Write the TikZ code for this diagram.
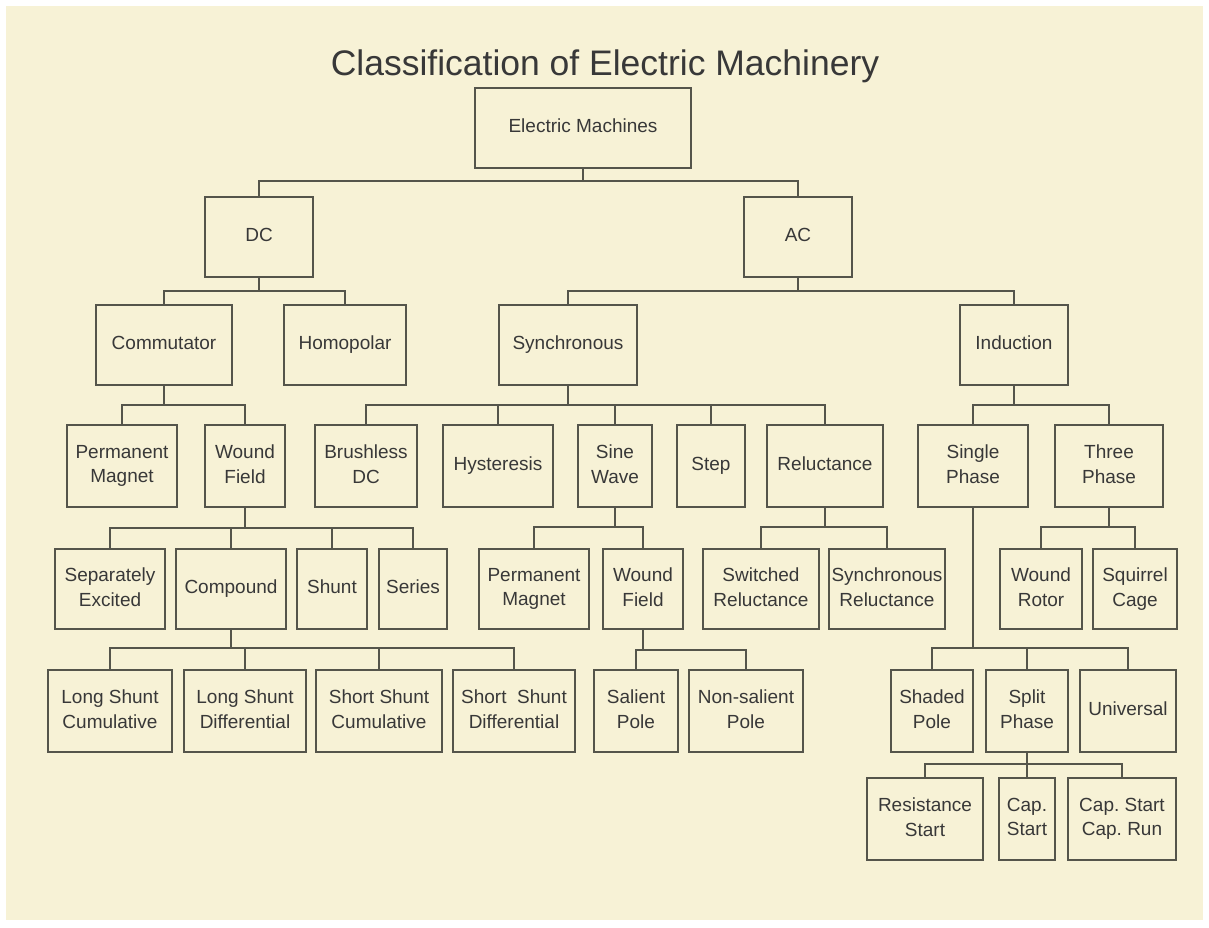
\documentclass[tikz,border=0pt]{standalone}
\usepackage{fontspec}
\setmainfont{Liberation Sans}
\usetikzlibrary{calc}
\frenchspacing
\definecolor{cream}{HTML}{F7F2D6}
\definecolor{linegray}{HTML}{55554B}
\definecolor{textgray}{HTML}{383838}
\tikzset{
  box/.style={draw=linegray, line width=1.6pt, rectangle, inner sep=0pt, align=center,
    text=textgray, font=\fontsize{19}{24.5}\selectfont,
    execute at begin node={\vphantom{Ag}}, execute at end node={\vphantom{A}}},
  conn/.style={draw=linegray, line width=1.6pt},
}
\begin{document}
\begin{tikzpicture}[x=1pt,y=-1pt]
\useasboundingbox (0,0) rectangle (1209,927);
\fill[white] (0,0) rectangle (1209,927);
\fill[cream] (6,6) rectangle (1203,920);

\node[anchor=base, text=textgray, font=\fontsize{35.5}{40}\selectfont] (title) at (605,75) {Classification of Electric Machinery};

% level 0-2
\node[box, minimum width=216pt, minimum height=80pt] (em) at (583,128) {Electric Machines};
\node[box, minimum width=108pt, minimum height=80pt] (dc) at (259,237) {DC};
\node[box, minimum width=108pt, minimum height=80pt] (ac) at (798,237) {AC};
\node[box, minimum width=136pt, minimum height=80pt] (comm) at (164,345) {Commutator};
\node[box, minimum width=122pt, minimum height=80pt] (homo) at (345,345) {Homopolar};
\node[box, minimum width=138pt, minimum height=80pt] (sync) at (568,345) {Synchronous};
\node[box, minimum width=108pt, minimum height=80pt] (ind) at (1014,345) {Induction};

% level 3
\node[box, minimum width=110pt, minimum height=82pt] (pm1) at (122,466) {Permanent\\Magnet};
\node[box, minimum width=80pt, minimum height=82pt] (wf1) at (245,466) {Wound\\Field};
\node[box, minimum width=102pt, minimum height=82pt] (bdc) at (366,466) {Brushless\\DC};
\node[box, minimum width=110pt, minimum height=82pt] (hys) at (498,466) {Hysteresis};
\node[box, minimum width=74pt, minimum height=82pt] (sine) at (615,466) {Sine\\Wave};
\node[box, minimum width=68pt, minimum height=82pt] (stepm) at (711,466) {Step};
\node[box, minimum width=116pt, minimum height=82pt] (rel) at (825,466) {Reluctance};
\node[box, minimum width=110pt, minimum height=82pt] (sp) at (973,466) {Single\\Phase};
\node[box, minimum width=108pt, minimum height=82pt] (tp) at (1109,466) {Three\\Phase};

% level 4
\node[box, minimum width=110pt, minimum height=80pt] (se) at (110,589) {Separately\\Excited};
\node[box, minimum width=110pt, minimum height=80pt] (comp) at (231,589) {Compound};
\node[box, minimum width=70pt, minimum height=80pt] (shunt) at (332,589) {Shunt};
\node[box, minimum width=68pt, minimum height=80pt] (series) at (413,589) {Series};
\node[box, minimum width=110pt, minimum height=80pt] (pm2) at (534,589) {Permanent\\Magnet};
\node[box, minimum width=80pt, minimum height=80pt] (wf2) at (643,589) {Wound\\Field};
\node[box, minimum width=116pt, minimum height=80pt] (swr) at (761,589) {Switched\\Reluctance};
\node[box, minimum width=116pt, minimum height=80pt] (syr) at (887,589) {Synchronous\\Reluctance};
\node[box, minimum width=82pt, minimum height=80pt] (wr) at (1041,589) {Wound\\Rotor};
\node[box, minimum width=84pt, minimum height=80pt] (sq) at (1135,589) {Squirrel\\Cage};

% level 5
\node[box, minimum width=124pt, minimum height=82pt] (lsc) at (110,711) {Long Shunt\\Cumulative};
\node[box, minimum width=122pt, minimum height=82pt] (lsd) at (245,711) {Long Shunt\\Differential};
\node[box, minimum width=126pt, minimum height=82pt] (ssc) at (379,711) {Short Shunt\\Cumulative};
\node[box, minimum width=122pt, minimum height=82pt] (ssd) at (514,711) {Short~~Shunt\\Differential};
\node[box, minimum width=84pt, minimum height=82pt] (sal) at (636,711) {Salient\\Pole};
\node[box, minimum width=114pt, minimum height=82pt] (nsal) at (746,711) {Non-salient\\Pole};
\node[box, minimum width=82pt, minimum height=82pt] (shp) at (932,711) {Shaded\\Pole};
\node[box, minimum width=82pt, minimum height=82pt] (spl) at (1027,711) {Split\\Phase};
\node[box, minimum width=96pt, minimum height=82pt] (uni) at (1128,711) {Universal};

% level 6
\node[box, minimum width=116pt, minimum height=82pt] (rs) at (925,819) {Resistance\\Start};
\node[box, minimum width=56pt, minimum height=82pt] (cs) at (1027,819) {Cap.\\Start};
\node[box, minimum width=108pt, minimum height=82pt] (cscr) at (1122,819) {Cap. Start\\Cap. Run};

% connectors
\foreach \c in {dc,ac} \draw[conn] (em.south) |- ($(\c.north)+(0,-15)$) -- (\c.north);
\foreach \c in {comm,homo} \draw[conn] (dc.south) |- ($(\c.north)+(0,-13)$) -- (\c.north);
\foreach \c in {sync,ind} \draw[conn] (ac.south) |- ($(\c.north)+(0,-13)$) -- (\c.north);
\foreach \c in {pm1,wf1} \draw[conn] (comm.south) |- ($(\c.north)+(0,-19)$) -- (\c.north);
\foreach \c in {bdc,hys,sine,stepm,rel} \draw[conn] (sync.south) |- ($(\c.north)+(0,-19)$) -- (\c.north);
\foreach \c in {sp,tp} \draw[conn] (ind.south) |- ($(\c.north)+(0,-19)$) -- (\c.north);
\foreach \c in {se,comp,shunt,series} \draw[conn] (wf1.south) |- ($(\c.north)+(0,-20)$) -- (\c.north);
\foreach \c in {pm2,wf2} \draw[conn] (sine.south) |- ($(\c.north)+(0,-21)$) -- (\c.north);
\foreach \c in {swr,syr} \draw[conn] (rel.south) |- ($(\c.north)+(0,-21)$) -- (\c.north);
\foreach \c in {wr,sq} \draw[conn] (tp.south) |- ($(\c.north)+(0,-21)$) -- (\c.north);
\foreach \c in {lsc,lsd,ssc,ssd} \draw[conn] (comp.south) |- ($(\c.north)+(0,-21)$) -- (\c.north);
\foreach \c in {sal,nsal} \draw[conn] (wf2.south) |- ($(\c.north)+(0,-19)$) -- (\c.north);
\foreach \c in {shp,spl,uni} \draw[conn] (sp.south) |- ($(\c.north)+(0,-21)$) -- (\c.north);
\foreach \c in {rs,cs,cscr} \draw[conn] (spl.south) |- ($(\c.north)+(0,-13)$) -- (\c.north);
\end{tikzpicture}
\end{document}
